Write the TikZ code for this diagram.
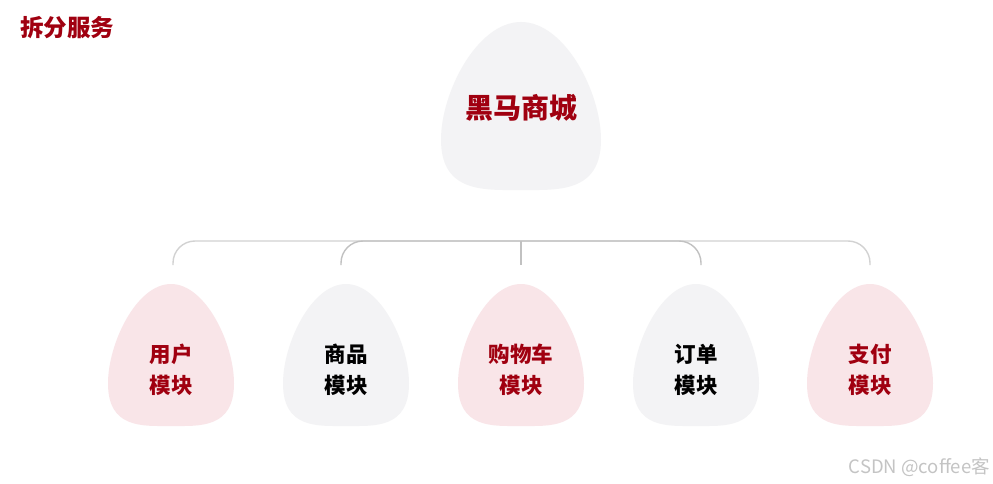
\documentclass[tikz,border=0pt]{standalone}
\usepackage{fontspec}
\newfontfamily\cjk{Noto Sans CJK SC}
\definecolor{darkred}{HTML}{A00010}
\definecolor{pinkfill}{HTML}{F9E5E8}
\definecolor{greyfill}{HTML}{F3F3F5}
\definecolor{linegrey}{HTML}{D2D2D2}
\definecolor{wmgrey}{HTML}{C4C4C4}
\newcommand{\eggpath}[5]{% cx, ty, by, w, fill
  \pgfmathsetmacro{\hw}{#4/2}
  \pgfmathsetmacro{\hh}{#3-#2}
  \fill[#5] (#1,#2)
    .. controls ({#1+0.55*\hw},#2) and ({#1+\hw},{#2+0.42*\hh}) .. ({#1+\hw},{#2+0.70*\hh})
    .. controls ({#1+\hw},{#3+0.02*\hh}) and ({#1+0.45*\hw},#3) .. (#1,#3)
    .. controls ({#1-0.45*\hw},#3) and ({#1-\hw},{#3+0.02*\hh}) .. ({#1-\hw},{#2+0.70*\hh})
    .. controls ({#1-\hw},{#2+0.42*\hh}) and ({#1-0.55*\hw},#2) .. (#1,#2) -- cycle;
}
\begin{document}
\begin{tikzpicture}[x=1pt,y=-1pt,
  title/.style={font=\cjk\bfseries\fontsize{23.5}{28}\selectfont, text=darkred, anchor=west, inner sep=0pt},
  maintext/.style={font=\cjk\bfseries\fontsize{28}{32}\selectfont, text=darkred, inner sep=0pt},
  modred/.style={font=\cjk\bfseries\fontsize{21.5}{31}\selectfont, text=darkred, align=center, inner sep=0pt},
  modblack/.style={font=\cjk\bfseries\fontsize{21.5}{31}\selectfont, text=black, align=center, inner sep=0pt},
  conn/.style={draw=linegrey, line width=1.4pt, rounded corners=22pt},
  wm/.style={font=\cjk\fontsize{18.5}{22}\selectfont, text=wmgrey, anchor=east, inner sep=0pt}]
\useasboundingbox (0,0) rectangle (993,484);
\fill[white] (0,0) rectangle (993,484);

\node[title] (title) at (20,28) {拆分服务};

% top egg
\eggpath{521}{22}{190}{160}{greyfill}
\node[maintext] (mall) at (521,108) {黑马商城};

% module eggs
\eggpath{171}{284}{426}{126}{pinkfill}
\eggpath{346}{284}{426}{126}{greyfill}
\eggpath{521}{284}{426}{126}{pinkfill}
\eggpath{696}{284}{426}{126}{greyfill}
\eggpath{870}{284}{426}{126}{pinkfill}

\node[modred]   (user)  at (171,370) {用户\\模块};
\node[modblack] (goods) at (346,370) {商品\\模块};
\node[modred]   (cart)  at (521,370) {购物车\\模块};
\node[modblack] (order) at (696,370) {订单\\模块};
\node[modred]   (pay)   at (870,370) {支付\\模块};

% connector ends
\coordinate (top)  at (521,241);
\coordinate (c1) at (173,265);
\coordinate (c2) at (341,265);
\coordinate (c3) at (521,265);
\coordinate (c4) at (701,265);
\coordinate (c5) at (870,265);

\draw[conn] (c1) |- (top) -| (c5);
\draw[conn, draw=linegrey!80!gray] (c2) |- (top) -| (c4);
\draw[conn, draw=linegrey!80!gray] (top) -- (c3);

\node[wm] (wm) at (990,467) {CSDN @coffee客};
\end{tikzpicture}
\end{document}
